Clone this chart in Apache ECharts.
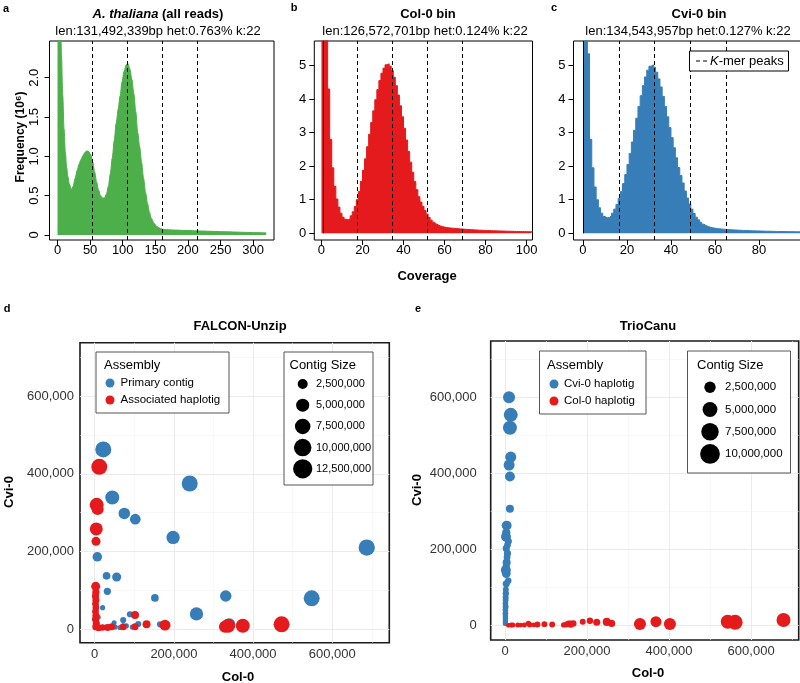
<!DOCTYPE html>
<html>
<head>
<meta charset="utf-8">
<title>K-mer spectra and trio binning</title>
<script src="https://cdn.jsdelivr.net/npm/echarts@6.0.0/dist/echarts.min.js"></script>
<style>
  html, body { margin: 0; padding: 0; background: #fff; }
  #chart { width: 800px; height: 683px; }
</style>
</head>
<body>
<div id="chart"></div>
<script>
// ---- panel a: all reads k-mer spectrum (frequency in 10^6) ----
var aCoverage = [0, 2, 4, 6, 8, 10, 12, 14, 16, 18,
  21, 24, 27, 30, 33, 36, 39, 42, 45, 48, 51, 54, 57, 60, 63, 66, 69,
  72, 75, 78, 81, 84, 87, 90, 93, 96, 99, 102, 105, 108, 111, 114, 117, 120,
  123, 126, 129, 132, 135, 138, 141, 144,
  148, 152, 156, 161, 170, 180, 200, 220, 240, 260, 280, 300, 320];
var aFrequency = [12, 6, 3.3, 2.3, 1.78, 1.35, 1.05, 0.86, 0.74, 0.65,
  0.58, 0.62, 0.72, 0.82, 0.9, 0.96, 1.01, 1.05, 1.07, 1.06, 1.02, 0.93, 0.8, 0.67, 0.57, 0.5, 0.47,
  0.47, 0.52, 0.62, 0.78, 0.98, 1.2, 1.42, 1.6, 1.77, 1.95, 2.08, 2.16, 2.18, 2.11, 1.98, 1.8, 1.57,
  1.3, 1.12, 0.92, 0.72, 0.54, 0.4, 0.29, 0.21,
  0.15, 0.11, 0.09, 0.072, 0.066, 0.062, 0.056, 0.05, 0.045, 0.04, 0.035, 0.03, 0.026];
var aPeaks = [53.6, 107.2, 160.8, 214.4];
var aXTicks = [0, 50, 100, 150, 200, 250, 300];
var aYTicks = [0, 0.5, 1, 1.5, 2];

// ---- panel b: Col-0 bin, bins of width 1 starting at coverage 0 ----
var bFrequency = [40, 14, 6.5, 4.3, 2.8, 1.95, 1.4, 1.02, 0.78, 0.6,
  0.48, 0.42, 0.4, 0.43, 0.52, 0.64, 0.8, 1.0, 1.25, 1.55,
  1.88, 2.22, 2.58, 2.95, 3.3, 3.65, 3.98, 4.28, 4.55, 4.77,
  4.92, 5.02, 5.05, 4.98, 4.85, 4.65, 4.4, 4.12, 3.8, 3.47,
  3.13, 2.78, 2.44, 2.12, 1.82, 1.54, 1.3, 1.09, 0.93, 0.8,
  0.68, 0.57, 0.47, 0.39, 0.33, 0.28, 0.25, 0.22, 0.2, 0.185,
  0.175, 0.165, 0.158, 0.152, 0.146, 0.14, 0.135, 0.13, 0.125, 0.12,
  0.116, 0.112, 0.108, 0.104, 0.1, 0.097, 0.094, 0.091, 0.088, 0.085,
  0.082, 0.08, 0.077, 0.075, 0.073, 0.071, 0.069, 0.067, 0.065, 0.063,
  0.061, 0.06, 0.058, 0.057, 0.055, 0.054, 0.053, 0.051, 0.05, 0.049,
  0.048, 0.047, 0.046];
var bPeaks = [17.2, 34.4, 51.6, 68.8];
var bEdge = 0.7;
var bXTicks = [0, 20, 40, 60, 80, 100];

// ---- panel c: Cvi-0 bin ----
var cFrequency = [40, 12, 5.35, 2.8, 1.95, 1.38, 1.0, 0.76, 0.6, 0.5,
  0.46, 0.47, 0.52, 0.6, 0.72, 0.86, 1.04, 1.24, 1.48, 1.75,
  2.05, 2.38, 2.72, 3.07, 3.43, 3.78, 4.1, 4.4, 4.66, 4.86,
  4.98, 5.02, 4.95, 4.8, 4.6, 4.36, 4.08, 3.78, 3.47, 3.15,
  2.85, 2.55, 2.25, 1.96, 1.72, 1.5, 1.26, 1.05, 0.87, 0.72,
  0.59, 0.48, 0.4, 0.33, 0.27, 0.23, 0.2, 0.18, 0.165, 0.152,
  0.14, 0.133, 0.127, 0.121, 0.116, 0.111, 0.107, 0.103, 0.099, 0.095,
  0.092, 0.089, 0.086, 0.083, 0.08, 0.078, 0.075, 0.073, 0.071, 0.069,
  0.067, 0.065, 0.063, 0.061, 0.06, 0.058, 0.057, 0.055, 0.054, 0.053,
  0.052, 0.051, 0.05, 0.049, 0.048, 0.047, 0.046, 0.045, 0.044, 0.043,
  0.042, 0.041, 0.04, 0.04];
var cPeaks = [16.3, 32.6, 48.9, 65.2];
var cEdge = 0;
var cXTicks = [0, 20, 40, 60, 80];
var binYTicks = [0, 1, 2, 3, 4, 5];

// ---- panels d, e: [Col-0 k-mers, Cvi-0 k-mers, contig size in Mb] ----
var dPrimary = [
  [21700, 463000, 8.1], [44400, 339000, 5.9], [74800, 298000, 3.6], [102500, 283000, 3.0],
  [6600, 186000, 2.2], [30000, 137000, 1.2], [55500, 134000, 1.9], [32000, 97000, 1.0],
  [152000, 80000, 1.2], [240000, 375000, 8.1], [198000, 236000, 5.2], [331000, 85000, 3.6],
  [257000, 39000, 5.2], [687000, 210000, 8.5], [548000, 79000, 8.1], [340000, 12000, 4.0],
  [165000, 12000, 0.6], [110000, 13000, 0.6], [89000, 38000, 0.6], [72000, 23000, 0.6],
  [80000, 8000, 0.3], [49000, 16000, 0.3], [52000, 5000, 0.3], [20000, 55000, 0.3],
  [9000, 30000, 0.3], [3000, 60000, 0.4], [2000, 45000, 0.4], [4000, 20000, 0.5],
  [6000, 5000, 0.5], [15000, 4000, 0.3], [30000, 6000, 0.3], [64000, 4000, 0.3], [95000, 5000, 0.3]
];
var dHaplotig = [
  [11600, 418000, 8.1], [5000, 320000, 5.9], [7500, 309000, 4.0], [4000, 258000, 4.9],
  [3300, 226000, 1.9], [2500, 110000, 1.9], [3000, 95000, 1.0], [2000, 85000, 1.0],
  [3000, 75000, 0.9], [2000, 65000, 0.8], [3000, 55000, 0.8], [2000, 45000, 0.8],
  [3000, 35000, 0.9], [2000, 25000, 0.9], [4000, 15000, 0.9], [3000, 6000, 1.0],
  [10000, 3000, 0.9], [20000, 4000, 0.7], [33000, 4000, 0.9], [43000, 6000, 0.9],
  [72000, 6000, 0.9], [101800, 6000, 0.9], [101800, 36000, 1.35], [131000, 12000, 1.35],
  [177500, 10000, 3.2], [329000, 6000, 4.0], [337000, 8500, 5.9], [374000, 8500, 5.9],
  [472000, 12000, 8.1]
];
var eCvi = [
  [9800, 600000, 2.9], [14000, 554000, 4.3], [12000, 520000, 4.3], [14000, 443000, 2.3],
  [10000, 422000, 2.3], [12000, 392000, 1.7], [12000, 307000, 0.9], [4000, 263000, 1.7],
  [3000, 245000, 1.0], [2400, 234000, 1.7], [8000, 222000, 0.6], [6000, 212000, 0.5],
  [3000, 203000, 0.6], [6000, 190000, 0.6], [5000, 180000, 0.5], [4000, 166000, 0.9],
  [3000, 157000, 0.6], [2000, 146000, 1.7], [3000, 137000, 1.2], [8000, 118000, 0.4],
  [3000, 110000, 0.6], [2000, 95000, 0.3], [2000, 85000, 0.4], [1500, 75000, 0.3],
  [1500, 67500, 0.3], [1000, 58000, 0.25], [1500, 50000, 0.3], [1000, 42000, 0.25],
  [1000, 32600, 0.25], [1000, 26000, 0.2], [1000, 19000, 0.2], [1000, 12000, 0.2], [1000, 6000, 0.2]
];
var eCol = [
  [679000, 15000, 4.3], [561000, 9000, 5.1], [543000, 10500, 4.3], [402000, 4500, 2.9],
  [368000, 10500, 2.3], [329000, 4500, 2.9], [260000, 6000, 0.6], [248000, 10000, 0.9],
  [223600, 9000, 0.6], [207000, 13000, 0.4], [189500, 10500, 0.3], [166600, 6000, 0.4],
  [160000, 4000, 0.6], [155000, 5000, 0.4], [150000, 3000, 0.3], [143000, 2000, 0.2],
  [115000, 3000, 0.3], [96000, 4000, 0.3], [79000, 3000, 0.3], [70000, 2000, 0.1],
  [60000, 2500, 0.2], [57000, 6000, 0.2], [47000, 2000, 0.15], [38000, 1500, 0.1],
  [31000, 2000, 0.15], [19000, 2000, 0.15], [15000, 1500, 0.15], [8000, 1000, 0.1]
];
var scatterTicks = [0, 200000, 400000, 600000];
var scatterMinor = [100000, 300000, 500000, 700000];
var dSizeLegend = [2.5, 5, 7.5, 10, 12.5];
var eSizeLegend = [2.5, 5, 7.5, 10];

// ---- drawing ----
var FONT = '"Liberation Sans", Arial, Helvetica, sans-serif';
var GREEN = '#4DAF4A', RED = '#E41A1C', BLUE = '#377EB8';

function sizeD(mb) { return 2.5 + 4.74 * Math.sqrt(mb); }
function sizeE(mb) { return 3 + 5.3 * Math.sqrt(mb); }
function commas(v) {
  return Math.round(v).toString().replace(/\B(?=(\d{3})+(?!\d))/g, ',');
}
function toSteps(values) {
  var pts = values.map(function (v, i) { return [i, v]; });
  pts.push([values.length, values[values.length - 1]]);
  return pts;
}

function histAxis(grid, min, max, ticks, margin, extra) {
  var axis = {
    type: 'value', gridIndex: grid, min: min, max: max,
    axisLine: { show: false, onZero: false },
    axisTick: { show: true, length: 5, customValues: ticks, lineStyle: { color: '#000', width: 1 } },
    axisLabel: { margin: margin, fontSize: 13, color: '#000', fontFamily: FONT, customValues: ticks },
    splitLine: { show: false }
  };
  if (extra) {
    Object.keys(extra).forEach(function (k) { axis.axisLabel[k] = extra[k]; });
  }
  return axis;
}

function scatterAxis(grid, min, max, margin) {
  return {
    type: 'value', gridIndex: grid, min: min, max: max,
    axisLine: { show: false, onZero: false },
    axisTick: { show: false },
    axisLabel: { margin: margin, fontSize: 13, color: '#333', fontFamily: FONT,
      customValues: scatterTicks, formatter: commas },
    splitLine: { show: false }
  };
}

function peakLines(peaks, edge, top) {
  var items = peaks.map(function (p) { return { xAxis: p }; });
  if (edge !== undefined) {
    var solid = { type: 'solid', color: '#000', width: 1 };
    items.push([{ coord: [edge, 0], lineStyle: solid }, { coord: [edge, top], lineStyle: solid }]);
  }
  return {
    silent: true, symbol: ['none', 'none'], label: { show: false }, animation: false,
    lineStyle: { color: '#000', type: [4, 3], width: 1 },
    data: items
  };
}

function gridLines(idx) {
  var items = [];
  scatterMinor.forEach(function (v) {
    items.push({ xAxis: v, lineStyle: { color: '#f4f4f4', width: 0.6 } });
    items.push({ yAxis: v, lineStyle: { color: '#f4f4f4', width: 0.6 } });
  });
  scatterTicks.forEach(function (v) {
    items.push({ xAxis: v, lineStyle: { color: '#ebebeb', width: 1 } });
    items.push({ yAxis: v, lineStyle: { color: '#ebebeb', width: 1 } });
  });
  return {
    type: 'line', xAxisIndex: idx, yAxisIndex: idx, data: [], z: 1, silent: true,
    markLine: { silent: true, z: 1, symbol: ['none', 'none'], label: { show: false },
      animation: false, lineStyle: { type: 'solid' }, data: items }
  };
}

function scatter(idx, data, color, sizeFn) {
  return {
    type: 'scatter', xAxisIndex: idx, yAxisIndex: idx, data: data, z: 2,
    symbolSize: function (val) { return sizeFn(val[2]); },
    itemStyle: { color: color, opacity: 1 }
  };
}

var gfx = [];
function text(x, y, str, size, opts) {
  opts = opts || {};
  var style = {
    text: str, fill: opts.color || '#000',
    font: (opts.weight || 'normal') + ' ' + size + 'px ' + FONT,
    align: opts.align || 'center', verticalAlign: 'middle'
  };
  if (opts.rich) { style.rich = opts.rich; }
  gfx.push({ type: 'text', x: x, y: y, rotation: opts.rotation || 0, z: 102, silent: true, style: style });
}
function box(x, y, w, h, stroke) {
  gfx.push({ type: 'rect', z: 100, silent: true, shape: { x: x, y: y, width: w, height: h },
    style: { fill: '#fff', stroke: stroke, lineWidth: 1 } });
}
function dot(cx, cy, r, color) {
  gfx.push({ type: 'circle', z: 101, silent: true, shape: { cx: cx, cy: cy, r: r }, style: { fill: color } });
}

// panel letters and titles
text(6, 9, 'a', 11, { weight: 'bold' });
text(294, 8, 'b', 11, { weight: 'bold' });
text(554, 8, 'c', 11, { weight: 'bold' });
text(7, 309, 'd', 11, { weight: 'bold' });
text(418, 309, 'e', 11, { weight: 'bold' });

text(158, 14, '{i|A. thaliana}{n| (all reads)}', 13, { weight: 'bold', rich: {
  i: { fontStyle: 'italic', fontWeight: 'bold', fontSize: 13, fontFamily: FONT },
  n: { fontWeight: 'bold', fontSize: 13, fontFamily: FONT } } });
text(158, 31, 'len:131,492,339bp het:0.763% k:22', 13);
text(428, 14, 'Col-0 bin', 13, { weight: 'bold' });
text(425, 31, 'len:126,572,701bp het:0.124% k:22', 13);
text(699, 14, 'Cvi-0 bin', 13, { weight: 'bold' });
text(688, 31, 'len:134,543,957bp het:0.127% k:22', 13);

text(21, 137, 'Frequency (10\u2076)', 12, { weight: 'bold', rotation: Math.PI / 2 });
text(427, 276, 'Coverage', 13, { weight: 'bold' });

// k-mer peaks key in panel c
box(689.5, 51, 99, 20, '#000');
gfx.push({ type: 'line', z: 101, silent: true, shape: { x1: 696, y1: 61, x2: 707, y2: 61 },
  style: { stroke: '#000', lineWidth: 1, lineDash: [4, 3] } });
text(710, 61, '{i|K}{n|-mer peaks}', 13, { align: 'left', rich: {
  i: { fontStyle: 'italic', fontSize: 13, fontFamily: FONT },
  n: { fontSize: 13, fontFamily: FONT } } });

// scatter panel titles and axis titles
text(240, 326, 'FALCON-Unzip', 13, { weight: 'bold' });
text(648, 326, 'TrioCanu', 13, { weight: 'bold' });
text(238, 677, 'Col-0', 13, { weight: 'bold' });
text(648, 673, 'Col-0', 13, { weight: 'bold' });
text(9, 492, 'Cvi-0', 13, { weight: 'bold', rotation: Math.PI / 2 });
text(417, 490, 'Cvi-0', 13, { weight: 'bold', rotation: Math.PI / 2 });

// panel d keys
box(96, 352, 133, 61, '#555');
text(104, 365, 'Assembly', 13, { align: 'left' });
dot(110, 383, 4.5, BLUE);
dot(110, 400, 4.5, RED);
text(120.5, 383, 'Primary contig', 11.5, { align: 'left' });
text(120.5, 400, 'Associated haplotig', 11.5, { align: 'left' });

box(284, 352, 89, 133, '#555');
text(289.5, 365, 'Contig Size', 13, { align: 'left' });
dSizeLegend.forEach(function (s, i) {
  var cy = 384 + i * 21.2;
  dot(302.7, cy, sizeD(s) / 2, '#000');
  text(316, cy, commas(s * 1e6), 11, { align: 'left' });
});

// panel e keys
box(539.5, 351, 106.5, 63, '#555');
text(547, 365, 'Assembly', 13, { align: 'left' });
dot(554, 384, 4.5, BLUE);
dot(554, 401, 4.5, RED);
text(564, 384, 'Cvi-0 haplotig', 11.5, { align: 'left' });
text(564, 401, 'Col-0 haplotig', 11.5, { align: 'left' });

box(687.5, 351, 103, 122, '#555');
text(697, 365, 'Contig Size', 13, { align: 'left' });
eSizeLegend.forEach(function (s, i) {
  var cy = 387.3 + i * 22.2;
  dot(710, cy, sizeE(s) / 2, '#000');
  text(725, cy, commas(s * 1e6), 11.5, { align: 'left' });
});

var boxGrid = { show: true, borderColor: '#000', borderWidth: 1, backgroundColor: 'transparent',
  containLabel: false, outerBoundsMode: 'none' };
function grid(l, t, w, h, bw) {
  var g = Object.assign({}, boxGrid, { left: l, top: t, width: w, height: h });
  if (bw) { g.borderWidth = bw; g.borderColor = '#1a1a1a'; }
  return g;
}

var chart = echarts.init(document.getElementById('chart'), null, { renderer: 'canvas' });
chart.setOption({
  animation: false,
  backgroundColor: '#fff',
  textStyle: { fontFamily: FONT },
  grid: [
    grid(49.5, 41, 224.5, 199),
    grid(314.3, 41, 218.2, 199),
    grid(573.5, 41, 236.5, 199),
    grid(80, 342.7, 309.3, 300, 1.6),
    grid(490.7, 341, 308, 299, 1.6)
  ],
  xAxis: [
    histAxis(0, -12.3, 332, aXTicks, 4),
    histAxis(1, -3.5, 102.9, bXTicks, 4),
    histAxis(2, -4.3, 103.2, cXTicks, 4),
    scatterAxis(3, -37100, 744000, 5),
    scatterAxis(4, -34900, 716000, 5)
  ],
  yAxis: [
    histAxis(0, -0.064, 2.467, aYTicks, 9, {
      rotate: 90,
      formatter: function (v) { return v === 0 ? '0' : v.toFixed(1); }
    }),
    histAxis(1, -0.2, 5.73, binYTicks, 8),
    histAxis(2, -0.2, 5.73, binYTicks, 8),
    scatterAxis(3, -35300, 738000, 6),
    scatterAxis(4, -37600, 748000, 14)
  ],
  series: [
    {
      type: 'line', xAxisIndex: 0, yAxisIndex: 0, z: 2,
      data: aCoverage.map(function (c, i) { return [c, aFrequency[i]]; }),
      smooth: 0.3, smoothMonotone: 'x', symbol: 'none',
      lineStyle: { color: GREEN, width: 1 },
      areaStyle: { color: GREEN, opacity: 1 },
      markLine: peakLines(aPeaks)
    },
    {
      type: 'line', xAxisIndex: 1, yAxisIndex: 1, z: 2,
      data: toSteps(bFrequency), step: 'end', symbol: 'none',
      lineStyle: { color: RED, width: 1 },
      areaStyle: { color: RED, opacity: 1 },
      markLine: peakLines(bPeaks, bEdge, 5.73)
    },
    {
      type: 'line', xAxisIndex: 2, yAxisIndex: 2, z: 2,
      data: toSteps(cFrequency), step: 'end', symbol: 'none',
      lineStyle: { color: BLUE, width: 1 },
      areaStyle: { color: BLUE, opacity: 1 },
      markLine: peakLines(cPeaks, cEdge, 5.73)
    },
    gridLines(3),
    scatter(3, dPrimary, BLUE, sizeD),
    scatter(3, dHaplotig, RED, sizeD),
    gridLines(4),
    scatter(4, eCvi, BLUE, sizeE),
    scatter(4, eCol, RED, sizeE)
  ],
  graphic: { elements: gfx }
});
</script>
</body>
</html>
